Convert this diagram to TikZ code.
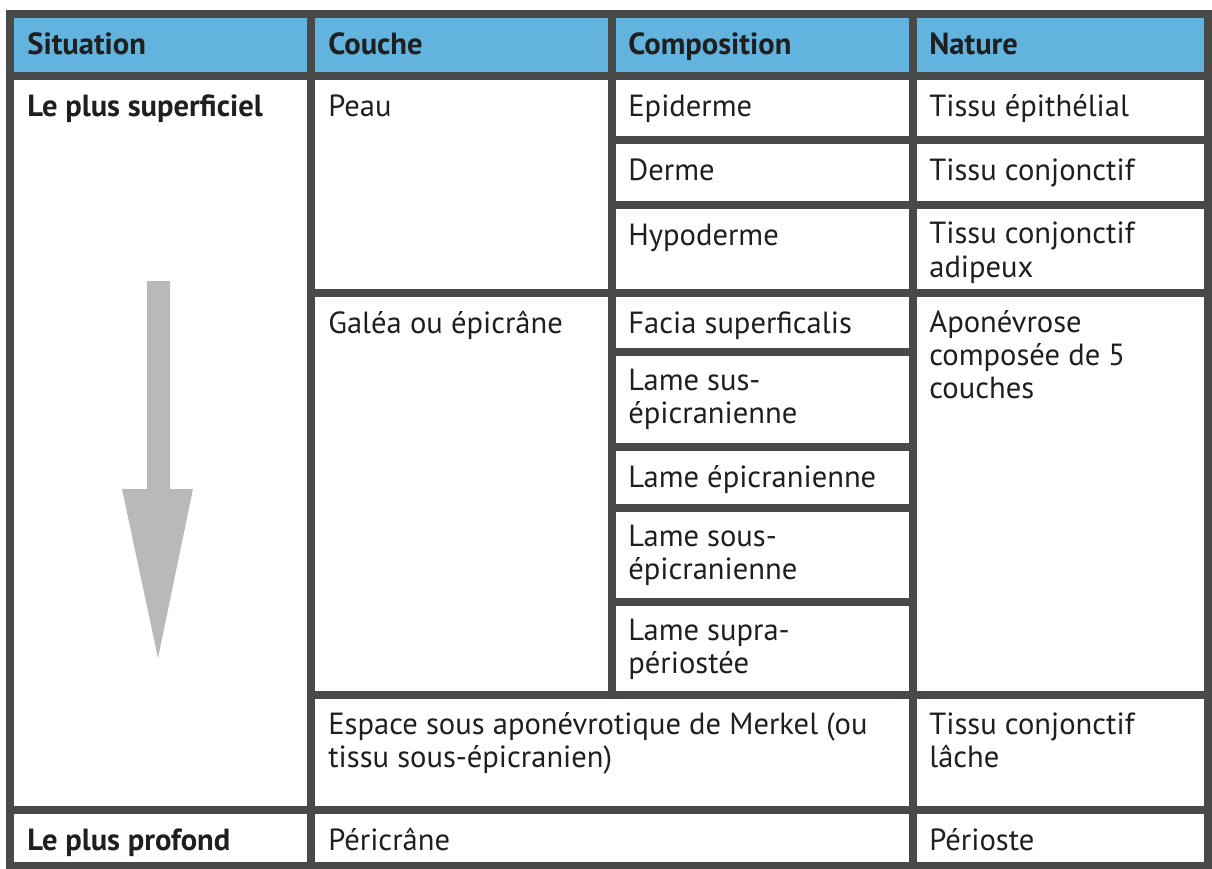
\documentclass[tikz,border=0pt]{standalone}
\usepackage{fontspec}
\setmainfont{PT Sans}
\definecolor{grille}{RGB}{72,73,73}
\definecolor{entete}{RGB}{99,179,223}
\definecolor{fleche}{RGB}{185,185,185}
\begin{document}
\begin{tikzpicture}[x=0.02cm, y=-0.02cm,
    cellule/.style={anchor=north west, inner sep=0pt, align=left, text=black!88, font=\fontsize{17.4}{18.8}\selectfont, execute at begin node=\strut},
    titre/.style={cellule, font=\fontsize{17.4}{18.8}\selectfont\bfseries},
    trait/.style={draw=grille, line width=0.16cm, line cap=rect}]
    \useasboundingbox (0,0) rectangle (1212,868);
    \fill[white] (0,0) rectangle (1212,868);
    \fill[entete] (10,14) rectangle (1208,76);
    \fill[fleche] (147,281) -- (170,281) -- (170,489) -- (193,489) -- (158,658) -- (122,489) -- (147,489) -- cycle;

    \foreach \y in {14,76,810,866} \draw[trait] (10,\y) -- (1208,\y);
    \foreach \y in {140,205} \draw[trait] (612,\y) -- (1208,\y);
    \foreach \y in {293,695} \draw[trait] (311,\y) -- (1208,\y);
    \foreach \y in {352,447,508,602} \draw[trait] (612,\y) -- (913,\y);
    \foreach \x in {10,311,913,1208} \draw[trait] (\x,14) -- (\x,866);
    \draw[trait] (612,14) -- (612,695);

    \node[titre] (situation) at (27,31) {Situation};
    \node[titre] (couche) at (328,31) {Couche};
    \node[titre] (composition) at (628,31) {Composition};
    \node[titre] (nature) at (929,31) {Nature};

    \node[titre] (superficiel) at (27,93) {Le plus superficiel};
    \node[cellule] (peau) at (328,93) {Peau};
    \node[cellule] (epiderme) at (628,93) {Epiderme};
    \node[cellule] (epithelial) at (929,93) {Tissu épithélial};
    \node[cellule] (derme) at (628,157) {Derme};
    \node[cellule] (conjonctif) at (929,157) {Tissu conjonctif};
    \node[cellule] (hypoderme) at (628,222) {Hypoderme};
    \node[cellule] (adipeux) at (929,222) {Tissu conjonctif\\adipeux};

    \node[cellule] (galea) at (328,310) {Galéa ou épicrâne};
    \node[cellule] (facia) at (628,310) {Facia superficalis};
    \node[cellule] (aponevrose) at (929,310) {Aponévrose\\composée de 5\\couches};
    \node[cellule] (sus) at (628,369) {Lame sus-\\épicranienne};
    \node[cellule] (epicranienne) at (628,464) {Lame épicranienne};
    \node[cellule] (sous) at (628,525) {Lame sous-\\épicranienne};
    \node[cellule] (supra) at (628,619) {Lame supra-\\périostée};

    \node[cellule] (merkel) at (328,712) {Espace sous aponévrotique de Merkel (ou\\tissu sous-épicranien)};
    \node[cellule] (lache) at (929,712) {Tissu conjonctif\\lâche};

    \node[titre] (profond) at (27,827) {Le plus profond};
    \node[cellule] (pericrane) at (328,827) {Péricrâne};
    \node[cellule] (perioste) at (929,827) {Périoste};
\end{tikzpicture}
\end{document}
